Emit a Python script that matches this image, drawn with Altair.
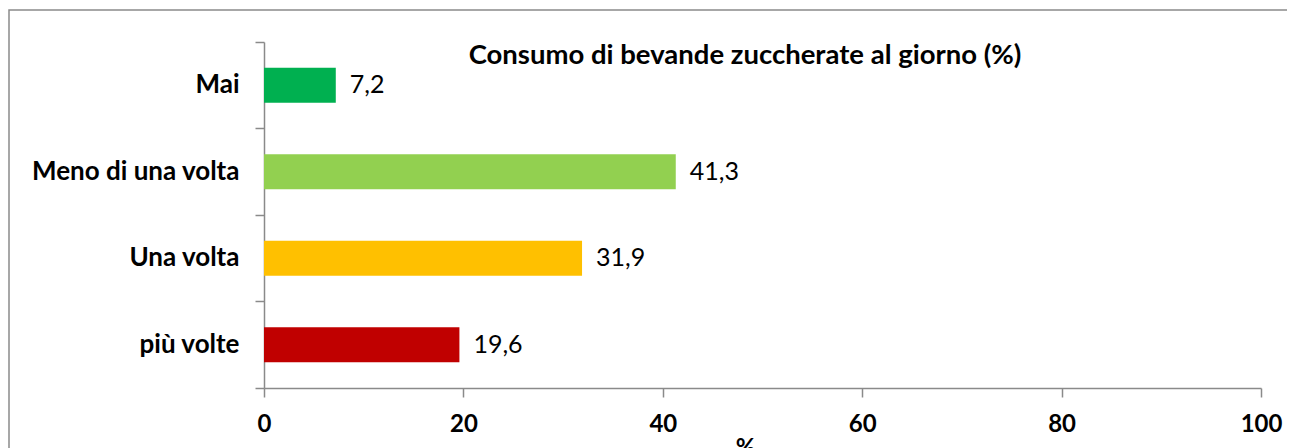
import altair as alt
import pandas as pd

categories = ["Mai", "Meno di una volta", "Una volta", "più volte"]
values = [7.2, 41.3, 31.9, 19.6]
colors = ["#00B050", "#92D050", "#FFC000", "#C00000"]
x_ticks = [0, 20, 40, 60, 80, 100]
chart_title = "Consumo di bevande zuccherate al giorno (%)"

df = pd.DataFrame({"cat": categories, "val": values})

GRAY = "#8a8a8a"
FONT = "Lato"

y_enc = alt.Y(
    "cat:N",
    sort=categories,
    scale=alt.Scale(paddingInner=0, paddingOuter=0),
    axis=alt.Axis(
        title=None,
        bandPosition=1,
        tickExtra=True,
        tickSize=9,
        tickColor=GRAY,
        tickWidth=1.5,
        domainColor=GRAY,
        domainWidth=1.5,
        labelFont=FONT,
        labelFontSize=26,
        labelFontWeight="bold",
        labelColor="black",
        labelPadding=16,
        labelLimit=400,
    ),
)

x_enc = alt.X(
    "val:Q",
    scale=alt.Scale(domain=[0, 100], nice=False),
    axis=alt.Axis(
        title="%",
        values=x_ticks,
        grid=False,
        tickSize=9,
        tickColor=GRAY,
        tickWidth=1.5,
        domainColor=GRAY,
        domainWidth=1.5,
        labelFont=FONT,
        labelFontSize=24,
        labelFontWeight="bold",
        labelColor="black",
        labelPadding=15,
        labelFlush=False,
        titleFont=FONT,
        titleFontSize=24,
        titleFontWeight="bold",
        titleColor="black",
        titleX=481,
        titleY=48,
        titleBaseline="top",
    ),
)

bars = alt.Chart(df).mark_bar(size=35).encode(
    x=x_enc,
    y=y_enc,
    color=alt.Color("cat:N", scale=alt.Scale(domain=categories, range=colors), legend=None),
)

labels = alt.Chart(df).transform_calculate(
    lab="replace(format(datum.val, '.1f'), '.', ',')"
).mark_text(align="left", baseline="middle", dx=14, font=FONT, fontSize=25, color="black").encode(
    x="val:Q",
    y=alt.Y("cat:N", sort=categories),
    text="lab:N",
)

border = alt.Chart(alt.Data(values=[{}])).mark_rect(
    filled=False, stroke=GRAY, strokeWidth=1.5
).encode(
    x=alt.value(-255), x2=alt.value(1200), y=alt.value(-32), y2=alt.value(600)
)

title = alt.Chart(alt.Data(values=[{"t": chart_title}])).mark_text(
    align="center", baseline="middle", font=FONT, fontSize=27.5, fontWeight="bold", color="black"
).encode(
    x=alt.value(481), y=alt.value(14), text="t:N"
)

chart = alt.layer(border, bars, labels, title).properties(
    width=997,
    height=346,
    autosize=alt.AutoSizeParams(type="none"),
    padding={"left": 256, "top": 34, "right": 26, "bottom": 60},
).configure_view(stroke=None)

chart.save("out.html", embed_options={"renderer": "svg", "actions": False})
